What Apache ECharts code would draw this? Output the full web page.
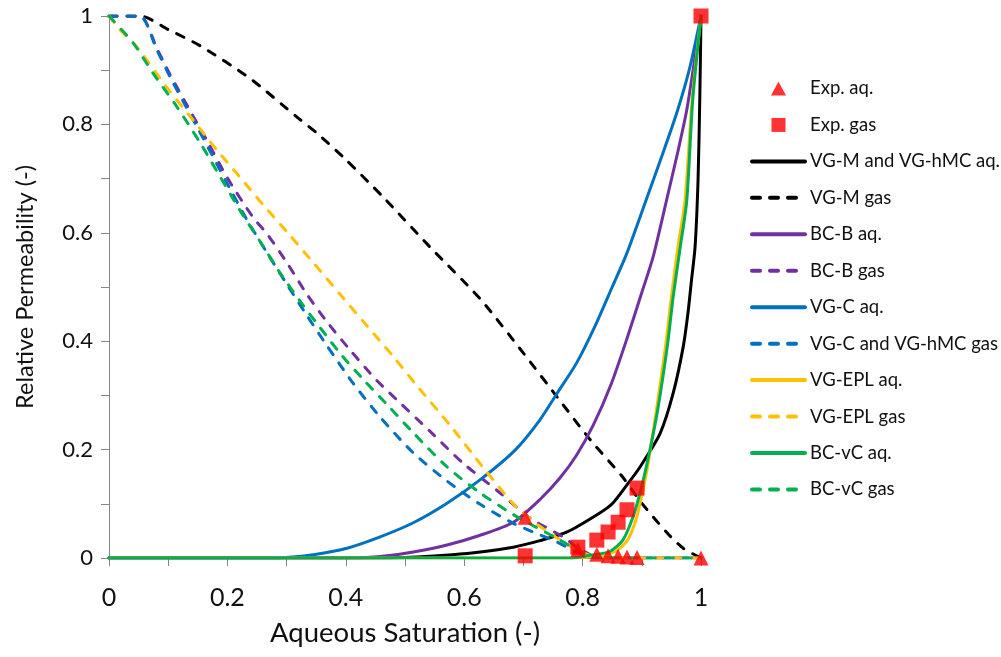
<!DOCTYPE html>
<html><head><meta charset="utf-8">
<script src="https://cdn.jsdelivr.net/npm/echarts@6/dist/echarts.min.js"></script>
<style>html,body{margin:0;padding:0;background:#fff}#c{width:1001px;height:657px}</style>
</head><body><div id="c"></div>
<script>
// ---- data ----
const xTicks = [0, 0.2, 0.4, 0.6, 0.8, 1];
const yTicks = [0, 0.2, 0.4, 0.6, 0.8, 1];

const expAq = [[0.703,0.075],[0.792,0.015],[0.824,0.007],[0.843,0.004],[0.86,0.003],[0.875,0.002],[0.892,0.001],[1,0]];
const expGas = [[0.703,0.004],[0.792,0.02],[0.824,0.033],[0.843,0.048],[0.86,0.066],[0.875,0.089],[0.892,0.129],[1,1]];

const vgmAq = [[0,0],[0.45,0],[0.52,0.002],[0.58,0.006],[0.627,0.011],[0.683,0.02],[0.728,0.032],[0.774,0.048],[0.829,0.083],[0.85,0.1],[0.875,0.135],[0.897,0.168],[0.931,0.23],[0.953,0.304],[0.97,0.39],[0.978,0.452],[0.984,0.513],[0.99,0.574],[0.995,0.697],[0.998,0.85],[1,1]];
const vgmGas = [[0,1],[0.053,1],[0.1,0.975],[0.154,0.945],[0.238,0.885],[0.317,0.814],[0.351,0.784],[0.4,0.735],[0.463,0.666],[0.542,0.574],[0.627,0.478],[0.7,0.378],[0.757,0.297],[0.813,0.218],[0.868,0.149],[0.897,0.105],[0.943,0.046],[0.97,0.018],[1,0]];

const bcbAq = [[0,0],[0.42,0],[0.47,0.004],[0.514,0.011],[0.571,0.024],[0.627,0.042],[0.683,0.066],[0.728,0.108],[0.762,0.148],[0.79,0.19],[0.818,0.245],[0.848,0.32],[0.875,0.405],[0.9,0.49],[0.919,0.555],[0.945,0.675],[0.962,0.755],[0.976,0.827],[0.988,0.91],[1,1]];
const bcbGas = [[0,1],[0.052,1],[0.081,0.94],[0.103,0.892],[0.132,0.835],[0.165,0.771],[0.199,0.703],[0.243,0.629],[0.267,0.598],[0.301,0.544],[0.334,0.487],[0.368,0.436],[0.407,0.384],[0.452,0.328],[0.486,0.292],[0.542,0.234],[0.598,0.175],[0.655,0.125],[0.694,0.089],[0.716,0.07],[0.767,0.039],[0.79,0.02],[0.815,0.005],[0.83,0],[1,0]];

const vgcAq = [[0,0],[0.27,0],[0.31,0.002],[0.345,0.006],[0.402,0.018],[0.458,0.039],[0.514,0.065],[0.571,0.101],[0.63,0.147],[0.686,0.199],[0.728,0.255],[0.757,0.304],[0.79,0.36],[0.822,0.43],[0.85,0.5],[0.875,0.563],[0.912,0.675],[0.935,0.745],[0.959,0.821],[0.98,0.9],[1,1]];
const vgcGas = [[0,1],[0.052,1],[0.081,0.937],[0.103,0.888],[0.125,0.843],[0.149,0.795],[0.171,0.75],[0.206,0.678],[0.233,0.624],[0.267,0.563],[0.301,0.504],[0.334,0.448],[0.368,0.392],[0.412,0.323],[0.458,0.26],[0.514,0.194],[0.571,0.142],[0.627,0.099],[0.683,0.064],[0.723,0.045],[0.75,0.033],[0.774,0.02],[0.8,0.006],[0.82,0],[1,0]];

const eplAq = [[0,0],[0.78,0],[0.82,0.003],[0.855,0.012],[0.876,0.033],[0.89,0.07],[0.9,0.115],[0.91,0.17],[0.924,0.268],[0.94,0.39],[0.95,0.482],[0.961,0.574],[0.973,0.66],[0.985,0.845],[1,1]];
const eplGas = [[0,1],[0.019,0.974],[0.047,0.943],[0.1,0.865],[0.142,0.808],[0.182,0.753],[0.221,0.703],[0.26,0.652],[0.306,0.595],[0.345,0.545],[0.39,0.487],[0.436,0.428],[0.48,0.372],[0.52,0.318],[0.576,0.245],[0.632,0.167],[0.683,0.1],[0.716,0.068],[0.75,0.042],[0.79,0.015],[0.815,0.004],[0.83,0],[1,0]];

const bcvcAq = [[0,0],[0.78,0],[0.812,0.005],[0.846,0.012],[0.868,0.033],[0.885,0.075],[0.897,0.12],[0.909,0.175],[0.926,0.268],[0.943,0.39],[0.953,0.482],[0.965,0.574],[0.976,0.66],[0.986,0.845],[1,1]];
const bcvcGas = [[0,1],[0.041,0.95],[0.074,0.895],[0.115,0.832],[0.154,0.766],[0.182,0.714],[0.209,0.664],[0.226,0.633],[0.26,0.576],[0.289,0.526],[0.328,0.466],[0.356,0.426],[0.39,0.378],[0.429,0.33],[0.475,0.277],[0.514,0.231],[0.571,0.168],[0.627,0.12],[0.683,0.08],[0.716,0.06],[0.762,0.033],[0.79,0.015],[0.815,0.003],[0.83,0],[1,0]];

const names = ['Exp. aq.','Exp. gas','VG-M and VG-hMC aq.','VG-M gas','BC-B aq.','BC-B gas','VG-C aq.','VG-C and VG-hMC gas','VG-EPL aq.','VG-EPL gas','BC-vC aq.','BC-vC gas'];
const colors = {black:'#000000', purple:'#7030A0', blue:'#0070C0', yellow:'#FFC000', green:'#00B050', red:'#FF0000'};

// ---- chart ----
const FONT = 'Lato';
const dash = [8, 10];
function line(name, data, color, dashed) {
  return {
    name, type: 'line', data, symbol: 'none', showSymbol: false, smooth: 0.25,
    lineStyle: { color, width: 3, type: dashed ? dash : 'solid', cap: 'round', join: 'round' },
    itemStyle: { color }, z: 2, animation: false
  };
}
const labelFmt = ticks => v => {
  const r = Math.round(v * 10) / 10;
  return ticks.some(t => Math.abs(t - r) < 1e-9) ? String(r) : '';
};
const axisCommon = {
  type: 'value', min: 0, max: 1, interval: 0.1,
  axisLine: { show: true, onZero: false, lineStyle: { color: '#868686', width: 1 } },
  axisTick: { show: true, inside: false, length: 8, lineStyle: { color: '#868686' } },
  splitLine: { show: false },
  nameLocation: 'middle'
};

const legendData = names.map((n, i) => {
  if (i === 0) return { name: n, icon: 'path://M0,14L7.5,0L15,14Z' };
  if (i === 1) return { name: n, icon: 'path://M0,0L14,0L14,14L0,14Z' };
  return { name: n, itemStyle: { opacity: 0, borderWidth: 0 } };
});

const chart = echarts.init(document.getElementById('c'), null, { renderer: 'canvas' });
chart.setOption({
  animation: false,
  backgroundColor: '#fff',
  grid: { left: 109, right: 300, top: 16, bottom: 99, containLabel: false },
  xAxis: Object.assign({}, axisCommon, {
    name: 'Aqueous Saturation (-)', nameGap: 61,
    nameTextStyle: { fontFamily: FONT, fontSize: 27.5, color: '#111' },
    axisLabel: { formatter: labelFmt(xTicks), fontFamily: FONT, fontSize: 25, color: '#111', margin: 27 }
  }),
  yAxis: Object.assign({}, axisCommon, {
    name: 'Relative Permeability (-)', nameGap: 72,
    nameTextStyle: { fontFamily: FONT, fontSize: 23.5, color: '#111' },
    axisLabel: { formatter: labelFmt(yTicks), fontFamily: FONT, fontSize: 22, color: '#111', margin: 16 }
  }),
  legend: {
    orient: 'vertical', left: 745, top: 74,
    itemWidth: 53, itemHeight: 14, itemGap: 17.45,
    symbolKeepAspect: true,
    lineStyle: { width: 4 },
    textStyle: { fontFamily: FONT, fontSize: 18.5, color: '#111' },
    data: legendData
  },
  series: [
    { name: names[0], type: 'scatter', data: expAq, symbol: 'triangle', symbolSize: 15, itemStyle: { color: colors.red }, z: 5 },
    { name: names[1], type: 'scatter', data: expGas, symbol: 'rect', symbolSize: 15, itemStyle: { color: colors.red }, z: 5 },
    line(names[2], vgmAq, colors.black, false),
    line(names[3], vgmGas, colors.black, true),
    line(names[4], bcbAq, colors.purple, false),
    line(names[5], bcbGas, colors.purple, true),
    line(names[6], vgcAq, colors.blue, false),
    line(names[7], vgcGas, colors.blue, true),
    line(names[8], eplAq, colors.yellow, false),
    line(names[9], eplGas, colors.yellow, true),
    line(names[10], bcvcAq, colors.green, false),
    line(names[11], bcvcGas, colors.green, true)
  ]
});
</script>
</body></html>
